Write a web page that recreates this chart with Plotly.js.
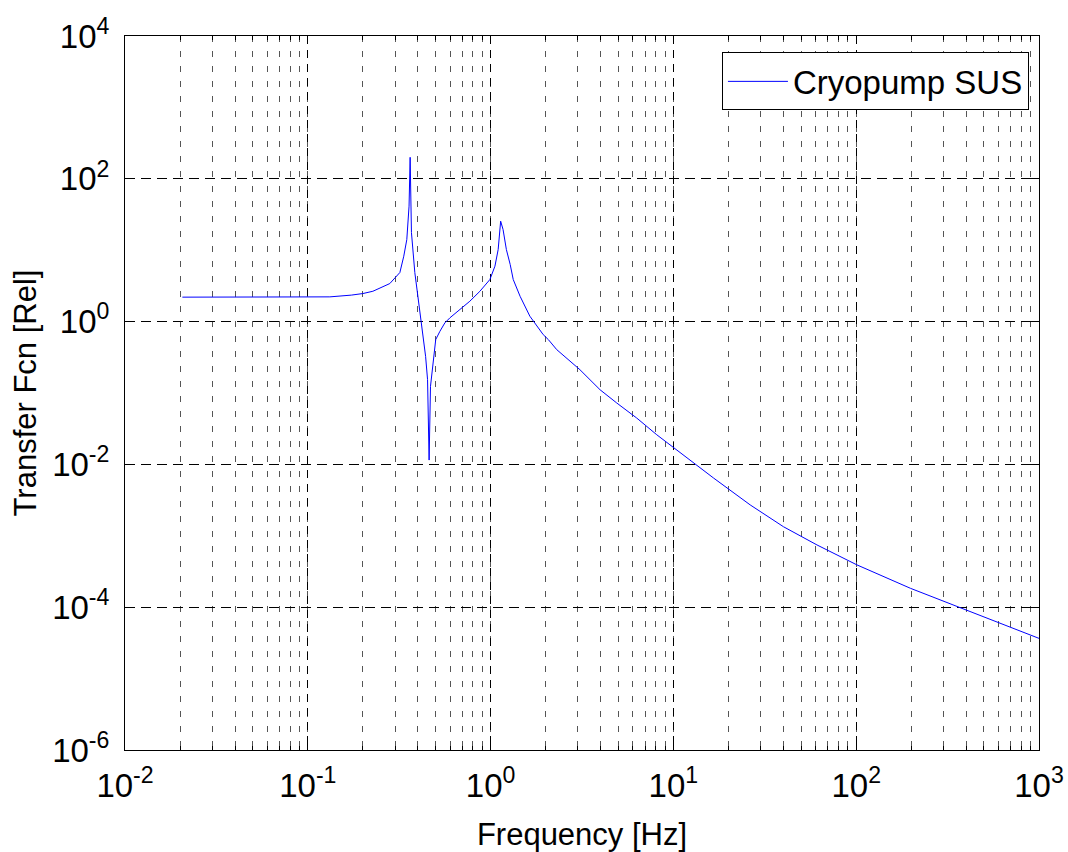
<!DOCTYPE html>
<html>
<head>
<meta charset="utf-8">
<script src="https://cdn.plot.ly/plotly-3.0.1.min.js"></script>
<style>html,body{margin:0;padding:0;background:#fff;}#chart{width:1068px;height:852px;}</style>
</head>
<body>
<div id="chart"></div>
<script>
// Frequency [Hz]
var freq = [0.0206, 0.132, 0.173, 0.2, 0.227, 0.257, 0.281, 0.319, 0.335, 0.348, 0.358, 0.363,
  0.369, 0.385, 0.396, 0.41, 0.422, 0.441, 0.452, 0.461, 0.469, 0.485, 0.501, 0.528, 0.562,
  0.599, 0.679, 0.77, 0.874, 0.991, 1.056, 1.10, 1.135, 1.17, 1.22, 1.28, 1.33, 1.45, 1.64,
  1.79, 1.94, 2.07, 2.30, 3.08, 3.97, 4.90, 6.30, 8.11, 10.4, 12.9, 16.6, 26.3, 40.0, 61.0,
  101, 198, 356, 542, 1000];
// Transfer function magnitude [Rel]
var mag = [2.2, 2.22, 2.35, 2.47, 2.66, 3.03, 3.41, 4.87, 8.24, 14.1, 41.4, 200,
  17.7, 4.87, 2.81, 1.34, 0.772, 0.326, 0.154, 0.0115, 0.124, 0.293, 0.56, 0.731, 0.959,
  1.13, 1.47, 1.93, 2.66, 3.88, 5.97, 10.2, 25.5, 19.5, 10.2, 6.3, 3.88, 2.26, 1.19,
  0.859, 0.657, 0.559, 0.405, 0.212, 0.111, 0.0724, 0.0446, 0.026, 0.016, 0.0104, 0.00643, 0.00271, 0.00134, 0.000745,
  0.000391, 0.000184, 0.000102, 0.0000661, 0.0000366];
var seriesName = "Cryopump SUS";
var xTickVals = [0.01, 0.1, 1, 10, 100, 1000];
var xTickText = ["10<sup>-2</sup>", "10<sup>-1</sup>", "10<sup>0</sup>", "10<sup>1</sup>", "10<sup>2</sup>", "10<sup>3</sup>"];
var yTickVals = [1e-6, 1e-4, 1e-2, 1, 1e2, 1e4];
var yTickText = ["10<sup>-6</sup>", "10<sup>-4</sup>", "10<sup>-2</sup>", "10<sup>0</sup>", "10<sup>2</sup>", "10<sup>4</sup>"];
var xTitle = "Frequency [Hz]";
var yTitle = "Transfer Fcn [Rel]";

var FONT = "Liberation Sans, Arial, sans-serif";

var trace = {
  x: freq, y: mag, type: "scatter", mode: "lines", name: seriesName,
  line: {color: "#0000ff", width: 1}
};

var layout = {
  width: 1068, height: 852,
  margin: {l: 125, r: 29, t: 36, b: 102},
  paper_bgcolor: "#ffffff", plot_bgcolor: "#ffffff",
  font: {family: FONT, size: 32, color: "#000000"},
  showlegend: true,
  legend: {
    x: 0.989, y: 0.977, xanchor: "right", yanchor: "top",
    bgcolor: "#ffffff", bordercolor: "#000000", borderwidth: 1,
    font: {family: FONT, size: 33, color: "#000000"},
    itemwidth: 60
  },
  xaxis: {
    type: "log", range: [-2, 3],
    tickvals: xTickVals, ticktext: xTickText,
    ticks: "inside", ticklen: 8, tickcolor: "#000", tickwidth: 1,
    ticklabelstandoff: 6,
    showline: true, linecolor: "#000", linewidth: 1, mirror: "allticks",
    showgrid: true, gridcolor: "#000", griddash: "8px,6px", gridwidth: 1,
    zeroline: false,
    tickfont: {family: FONT, size: 33, color: "#000"},
    title: {text: xTitle, font: {family: FONT, size: 31, color: "#000"}, standoff: 20},
    minor: {dtick: "D1", showgrid: true, gridcolor: "#555", griddash: "6px,9px", gridwidth: 1,
            ticks: "inside", ticklen: 4, tickcolor: "#000"}
  },
  yaxis: {
    type: "log", range: [-6, 4],
    tickvals: yTickVals, ticktext: yTickText,
    ticks: "inside", ticklen: 8, tickcolor: "#000", tickwidth: 1,
    ticklabelstandoff: 8,
    showline: true, linecolor: "#000", linewidth: 1, mirror: "allticks",
    showgrid: true, gridcolor: "#000", griddash: "10px,6px", gridwidth: 1,
    zeroline: false,
    tickfont: {family: FONT, size: 33, color: "#000"},
    title: {text: yTitle, font: {family: FONT, size: 31, color: "#000"}, standoff: 6}
  }
};

Plotly.newPlot("chart", [trace], layout, {displayModeBar: false, staticPlot: true});
</script>
</body>
</html>
